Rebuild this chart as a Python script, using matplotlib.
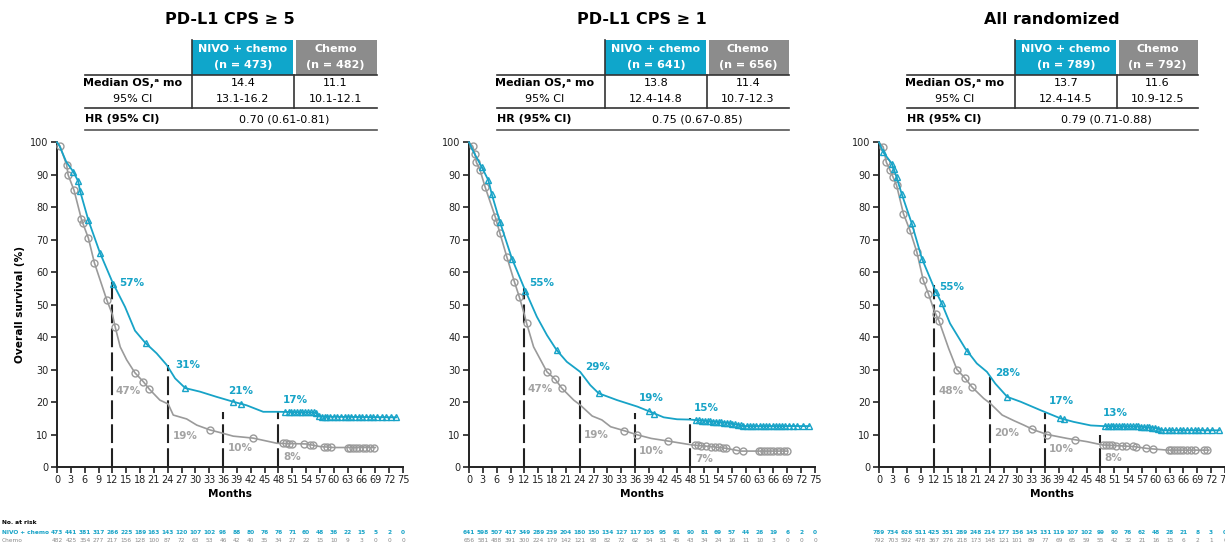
import numpy as np
import matplotlib.pyplot as plt
from matplotlib.patches import Rectangle
from matplotlib.transforms import blended_transform_factory

plt.rcParams['font.family'] = ['DejaVu Sans']

teal = '#17A3C7'
gray = '#9A9A9A'
gray_txt = '#A3A3A3'

# Tabelas
titles = ['PD-L1 CPS ≥ 5', 'PD-L1 CPS ≥ 1', 'All randomized']
n_nivo = [473, 641, 789]
n_chemo = [482, 656, 792]
median_nivo = ['14.4', '13.8', '13.7']
ci_nivo = ['13.1-16.2', '12.4-14.8', '12.4-14.5']
median_chemo = ['11.1', '11.4', '11.6']
ci_chemo = ['10.1-12.1', '10.7-12.3', '10.9-12.5']
hr_text = ['0.70 (0.61-0.81)', '0.75 (0.67-0.85)', '0.79 (0.71-0.88)']

# Curvas (meses, sobrevida %)
m_nivo_1 = [0, 0.5, 2, 3.5, 4.6, 5, 6.8, 9.3, 12, 14.75, 16.9, 19.1, 21.6, 23.8, 25.6, 27.8, 31, 34.6,
            38.2, 41.1, 44.7, 48, 56, 57, 73.5]
s_nivo_1 = [100, 99, 94, 91, 88, 85, 76, 66, 57, 49.3, 42, 38.3, 35, 31.4, 27.3, 24.3, 23.2, 21.6,
            20.1, 19, 17, 17, 16.8, 15.5, 15.3]
m_chemo_1 = [0, 0.65, 2.1, 2.4, 3.7, 5.35, 6.8, 8.1, 10.8, 12, 12.6, 13.7, 15.1, 16.9, 18.7, 20, 22.3,
             24.1, 25.2, 28.1, 30.3, 33.2, 35.9, 38.2, 42.5, 47.7, 54, 57, 60, 69]
s_chemo_1 = [100, 98.8, 93, 90, 85.2, 76, 70.5, 62.9, 51.4, 47, 43.2, 37, 33, 29, 26.3, 24, 20.6,
             19.4, 16, 14.8, 12.9, 11.4, 10.4, 9.5, 8.9, 7.3, 7.1, 6.3, 6, 6]

m_nivo_2 = [0, 1, 2.75, 4.2, 4.9, 6.7, 9.3, 12, 14.7, 16.9, 19, 21.2, 24.1, 26.3, 28.1, 32.1, 36.5,
            39.3, 42.2, 45.1, 48, 56.7, 59.6, 73.7]
s_nivo_2 = [100, 97, 92.4, 88.3, 84.2, 75.5, 64.2, 55, 46.3, 40.6, 36, 32.4, 29.3, 25.2, 22.7, 20.6, 18.6,
            17, 15.3, 14.7, 14.6, 13.5, 12.6, 12.6]
m_chemo_2 = [0, 0.8, 1.3, 1.6, 2.4, 3.5, 5.7, 6.7, 8.2, 9.85, 10.9, 12, 12.5, 14, 16.9, 18.7, 20.1, 22.7,
             24.1, 26.7, 28.8, 30.7, 33.6, 36.5, 39.5, 43.1, 48.3, 52.4, 55.5, 58.9, 69]
s_chemo_2 = [100, 98.8, 96.3, 93.8, 91.4, 86.2, 77, 72, 64.7, 57, 52.4, 47, 44.2, 37, 29.3, 27, 24.3, 20.6,
             19.1, 15.7, 14.5, 12.4, 11.2, 9.9, 8.8, 8, 6.8, 6.3, 5.8, 4.9, 4.9]

m_nivo_3 = [0, 0.9, 2.8, 3.8, 4.9, 7.1, 9.3, 12, 13.6, 15.4, 18.7, 21.2, 23.4, 25.2, 27.8, 30.7, 35,
            39.3, 42.2, 45.9, 48.6, 56, 60, 61.5, 73.7]
s_nivo_3 = [100, 97, 93.4, 89.3, 84.2, 75, 64.2, 55, 50.4, 44.2, 36.5, 31.9, 29.3, 25.7, 21.6, 20.1, 17.5,
            15, 13.9, 12.8, 12.6, 12.5, 12.0, 11.3, 11.3]
m_chemo_3 = [0, 0.9, 1.6, 2.4, 3.8, 5.3, 6.7, 8.2, 9.6, 10.7, 12, 13, 15.1, 16.9, 18.7, 20.1, 22.7,
             24.1, 26.7, 29.2, 31.4, 33.6, 36.5, 40.8, 45.1, 48.4, 55.2, 58.2, 62.5, 71.5]
s_chemo_3 = [100, 98.6, 93.8, 91.4, 86.8, 78, 72.9, 66.2, 57.5, 53.4, 48, 45, 36.5, 30, 27.3, 24.7, 21.1,
             19.6, 16, 14.3, 12.9, 11.4, 10, 8.8, 7.8, 6.8, 6.3, 5.7, 5.2, 5.2]

# Censuras (meses)
cens_nivo_1 = [3.5, 4.6, 5.0, 6.8, 9.3, 12.2, 19.2, 27.8, 38.2, 39.8, 49.5, 50.2, 50.8, 51.4, 52.0, 52.6,
               53.2, 53.8, 54.4, 55.0, 55.6, 56.2, 56.8, 57.4, 58.0, 58.6, 59.2, 60.0, 60.8, 61.6, 62.4,
               63.0, 63.8, 64.6, 65.4, 66.2, 67.0, 67.8, 68.6, 69.4, 70.4, 71.4, 72.4, 73.4]
cens_chemo_1 = [0.6, 2.1, 2.4, 3.7, 5.3, 5.6, 6.8, 8.1, 10.8, 12.6, 16.9, 18.7, 20.0, 33.2, 42.5, 49.0,
                49.6, 50.2, 51.0, 53.5, 54.8, 55.4, 57.9, 58.6, 59.3, 63.0, 63.6, 64.2, 64.8, 65.5, 66.3,
                67.0, 67.8, 68.8]
cens_nivo_2 = [2.75, 4.2, 4.9, 6.7, 9.3, 12.2, 19.0, 28.1, 39.0, 40.2, 49.3, 49.9, 50.5, 51.1, 51.7, 52.3,
               52.9, 53.5, 54.1, 54.7, 55.3, 55.9, 56.5, 57.1, 57.7, 58.3, 58.9, 59.5, 60.2, 60.9, 61.6,
               62.3, 63.0, 63.7, 64.4, 65.1, 65.8, 66.5, 67.2, 67.9, 68.6, 69.3, 70.2, 71.2, 72.4, 73.7]
cens_chemo_2 = [0.8, 1.3, 1.6, 2.4, 3.5, 5.7, 6.0, 6.7, 8.2, 9.85, 10.9, 12.5, 16.9, 18.7, 20.1, 33.6,
                36.5, 43.1, 49.0, 49.6, 50.2, 51.4, 52.4, 53.4, 54.2, 55.0, 55.6, 57.9, 59.3, 62.8, 63.4,
                64.0, 64.6, 65.3, 66.0, 66.8, 67.5, 68.3, 69.0]
cens_nivo_3 = [0.9, 2.8, 3.2, 3.8, 4.9, 7.1, 9.3, 12.4, 13.6, 19.1, 27.8, 39.2, 40.2, 49.0, 49.6, 50.2,
               50.8, 51.4, 52.0, 52.6, 53.2, 53.8, 54.4, 55.0, 55.6, 56.2, 56.8, 57.4, 58.0, 58.6, 59.2,
               59.8, 60.4, 61.2, 62.0, 62.8, 63.6, 64.4, 65.2, 66.0, 66.8, 67.6, 68.4, 69.2, 70.0, 71.0,
               72.2, 73.7]
cens_chemo_3 = [0.9, 1.6, 2.4, 3.0, 3.8, 5.3, 6.7, 8.2, 9.6, 10.7, 12.3, 13.0, 16.9, 18.7, 20.1, 33.2,
                36.5, 42.5, 48.6, 49.2, 49.8, 50.6, 51.4, 52.6, 53.6, 55.0, 55.6, 57.9, 59.3, 62.8, 63.4,
                64.0, 64.6, 65.3, 66.0, 66.8, 67.6, 68.4, 70.5, 71.2]

# Percentuais nos marcos de 12, 24, 36, 48 meses
pct_nivo = [[57, 31, 21, 17], [55, 29, 19, 15], [55, 28, 17, 13]]
pct_chemo = [[47, 19, 10, 8], [47, 19, 10, 7], [48, 20, 10, 8]]

# Numero em risco
risk_months = list(range(0, 76, 3))
risk_nivo_1 = [473, 441, 381, 317, 266, 225, 189, 163, 143, 120, 107, 102, 96, 88, 80, 76, 76, 71, 60, 48, 36, 22, 15, 5, 2, 0]
risk_chemo_1 = [482, 425, 354, 277, 217, 156, 128, 100, 87, 72, 63, 53, 46, 42, 40, 35, 34, 27, 22, 15, 10, 9, 3, 0, 0, 0]
risk_nivo_2 = [641, 598, 507, 417, 349, 289, 239, 204, 180, 150, 134, 127, 117, 105, 95, 91, 90, 81, 69, 57, 44, 26, 19, 6, 2, 0]
risk_chemo_2 = [656, 581, 488, 391, 300, 224, 179, 142, 121, 98, 82, 72, 62, 54, 51, 45, 43, 34, 24, 16, 11, 10, 3, 0, 0, 0]
risk_nivo_3 = [789, 734, 626, 511, 425, 351, 289, 248, 214, 177, 156, 145, 131, 119, 107, 102, 99, 90, 76, 62, 48, 28, 21, 8, 3, 0]
risk_chemo_3 = [792, 703, 592, 478, 367, 276, 218, 173, 148, 121, 101, 89, 77, 69, 65, 59, 55, 42, 32, 21, 16, 15, 6, 2, 1, 0]

curves = [(m_nivo_1, s_nivo_1, m_chemo_1, s_chemo_1, cens_nivo_1, cens_chemo_1, risk_nivo_1, risk_chemo_1),
          (m_nivo_2, s_nivo_2, m_chemo_2, s_chemo_2, cens_nivo_2, cens_chemo_2, risk_nivo_2, risk_chemo_2),
          (m_nivo_3, s_nivo_3, m_chemo_3, s_chemo_3, cens_nivo_3, cens_chemo_3, risk_nivo_3, risk_chemo_3)]

# Layout (pixels)
W, H = 1225, 544
ax_left = [57, 469, 879]
ax_w = 346
ax_top, ax_bot = 142.3, 467
table_x = [(85, 192, 294, 377), (497, 605, 707, 789), (907, 1015, 1117, 1198)]
title_cx = [230, 642, 1052]
dash_tops = [[57, 31.4, 17, 17], [55, 29.3, 16.6, 15], [56, 27.8, 16.6, 9.8]]
lab_nivo_xy = [[(13.5, 56.6), (25.6, 31.4), (37.1, 23.5), (49, 20.6)],
               [(13.1, 56.8), (25.1, 30.9), (36.9, 21.1), (48.8, 18.1)],
               [(13.1, 55.3), (25.1, 29.1), (36.9, 20.3), (48.6, 16.5)]]
lab_chemo_xy = [[(12.6, 23.4), (25.2, 9.5), (37, 5.7), (49, 3)],
                [(12.7, 23.9), (24.9, 10), (36.9, 5), (49, 2.4)],
                [(13, 23.4), (24.9, 10.4), (36.9, 5.4), (48.9, 2.9)]]

fig = plt.figure(figsize=(W / 100, H / 100), dpi=100)

for k in range(3):
    mn, sn, mc, sc, cn, cc, rn, rc = curves[k]
    ax = fig.add_axes([ax_left[k] / W, 1 - ax_bot / H, ax_w / W, (ax_bot - ax_top) / H])
    ax.set_xlim(0, 75)
    ax.set_ylim(0, 100)
    ax.spines[['top', 'right']].set_visible(False)
    for sp in ['left', 'bottom']:
        ax.spines[sp].set_linewidth(1.4)
        ax.spines[sp].set_color('#222222')
    ax.set_xticks(risk_months)
    ax.set_yticks(range(0, 101, 10))
    ax.tick_params(length=4, width=1.2, labelsize=7, colors='#222222', pad=2)

    # linhas tracejadas nos marcos
    for j, mm in enumerate([12, 24, 36, 48]):
        ax.plot([mm, mm], [0, dash_tops[k][j]], color='#222222', lw=1.5, dashes=(9, 2.5), zorder=2)

    ax.plot(mc, sc, color=gray, lw=1.2, zorder=3, clip_on=False)
    ax.plot(mn, sn, color=teal, lw=1.3, zorder=4, clip_on=False)
    ax.plot(cc, np.interp(cc, mc, sc), ls='none', marker='o', ms=5, mfc='none', mec=gray, mew=1.0,
            zorder=3, clip_on=False)
    ax.plot(cn, np.interp(cn, mn, sn), ls='none', marker='^', ms=5, mfc='none', mec=teal, mew=1.0,
            zorder=4, clip_on=False)

    for j in range(4):
        x, y = lab_nivo_xy[k][j]
        ax.text(x, y, f'{pct_nivo[k][j]}%', color=teal, fontsize=7.5, fontweight='bold', va='center')
        x, y = lab_chemo_xy[k][j]
        ax.text(x, y, f'{pct_chemo[k][j]}%', color=gray_txt, fontsize=7.5, fontweight='bold', va='center')

    ax.set_xlabel('Months', fontsize=7.6, fontweight='bold', labelpad=3)
    if k == 0:
        ax.set_ylabel('Overall survival (%)', fontsize=7.6, fontweight='bold', labelpad=4)

    # numero em risco
    tr = blended_transform_factory(ax.transData, fig.transFigure)
    for mm, a, b in zip(risk_months, rn, rc):
        ax.text(mm, 1 - 532 / H, str(a), transform=tr, ha='center', va='center', fontsize=4.2,
                color=teal, fontweight='bold', clip_on=False)
        ax.text(mm, 1 - 541 / H, str(b), transform=tr, ha='center', va='center', fontsize=4.2,
                color='#8A8A8A', clip_on=False)

fig.text(2 / W, 1 - 523 / H, 'No. at risk', fontsize=4.2, fontweight='bold', va='center')
fig.text(2 / W, 1 - 532 / H, 'NIVO + chemo', fontsize=4.2, color=teal, fontweight='bold', va='center')
fig.text(2 / W, 1 - 541 / H, 'Chemo', fontsize=4.2, color='#8A8A8A', va='center')

# Tabelas por cima
ov = fig.add_axes([0, 0, 1, 1])
ov.set_xlim(0, W)
ov.set_ylim(H, 0)
ov.axis('off')
ov.patch.set_alpha(0)

for k in range(3):
    x0, x1, x2, x3 = table_x[k]
    ov.text(title_cx[k], 20, titles[k], fontsize=11.5, fontweight='bold', ha='center', va='center')
    ov.add_patch(Rectangle((x1, 40), x2 - x1 - 1.5, 35, color='#0FA6CB', lw=0))
    ov.add_patch(Rectangle((x2 + 1.5, 40), x3 - x2 - 1.5, 35, color='#8C8C8C', lw=0))
    ov.plot([x0, x3], [75, 75], color='#333333', lw=1.2)
    ov.plot([x0, x3], [108, 108], color='#333333', lw=1.2)
    ov.plot([x0, x3], [130, 130], color='#555555', lw=1.2)
    ov.plot([x1, x1], [40, 108], color='#333333', lw=1.2)
    ov.plot([x2, x2], [75, 108], color='#333333', lw=1.2)
    c1, c2 = (x1 + x2) / 2, (x2 + x3) / 2
    kw = dict(ha='center', va='center', fontsize=8)
    ov.text(c1, 49, 'NIVO + chemo', color='white', fontweight='bold', **kw)
    ov.text(c1, 65, f'(n = {n_nivo[k]})', color='white', fontweight='bold', **kw)
    ov.text(c2, 49, 'Chemo', color='white', fontweight='bold', **kw)
    ov.text(c2, 65, f'(n = {n_chemo[k]})', color='white', fontweight='bold', **kw)
    ov.text(x0 + 48, 83, 'Median OS,ᵃ mo', fontweight='bold', **kw)
    ov.text(x0 + 48, 99, '95% CI', **kw)
    ov.text(c1, 83, median_nivo[k], **kw)
    ov.text(c1, 99, ci_nivo[k], **kw)
    ov.text(c2, 83, median_chemo[k], **kw)
    ov.text(c2, 99, ci_chemo[k], **kw)
    ov.text(x0, 119, 'HR (95% CI)', fontweight='bold', ha='left', va='center', fontsize=8)
    ov.text((x1 + x3) / 2, 119, hr_text[k], **kw)

plt.savefig('out.png', dpi=100)
